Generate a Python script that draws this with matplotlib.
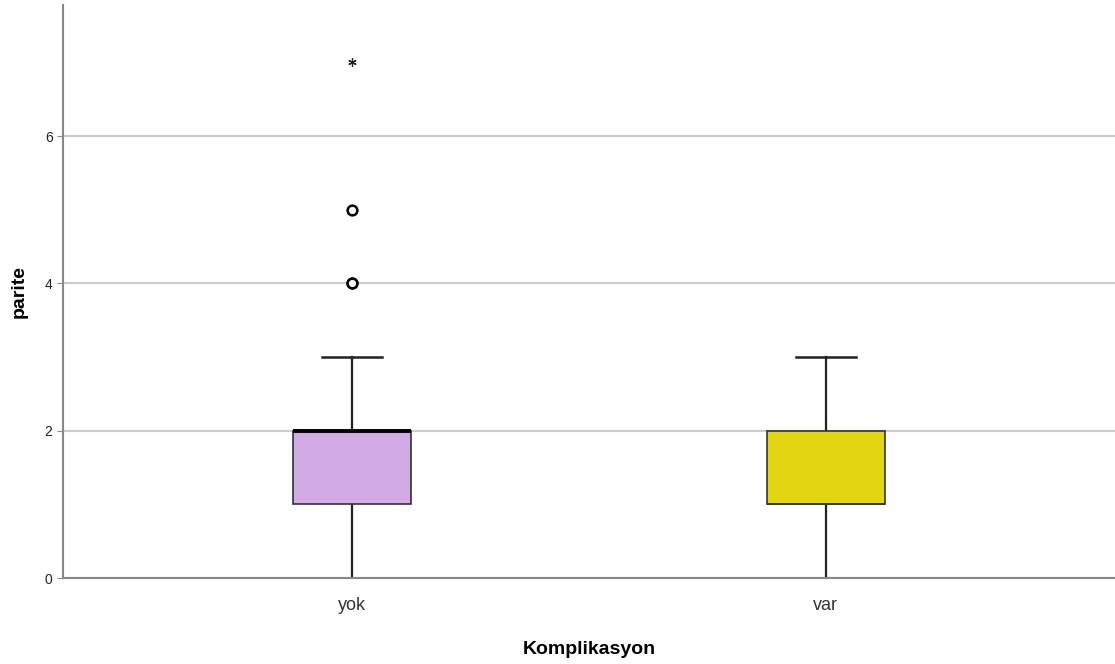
import matplotlib.pyplot as plt

plt.rcParams['font.family'] = ['Liberation Sans', 'DejaVu Sans']

# Box plot summary for parite by Komplikasyon
groups = ['yok', 'var']
q1 = [1, 1]
medians = [2, 1]
q3 = [2, 2]
whis_lo = [0, 0]
whis_hi = [3, 3]
outliers = [[4, 4, 5], []]
extremes = [[7], []]
colors = ['#d2aae4', '#e1d60f']

stats = []
for i, g in enumerate(groups):
    stats.append({'label': g, 'q1': q1[i], 'med': medians[i], 'q3': q3[i],
                  'whislo': whis_lo[i], 'whishi': whis_hi[i], 'fliers': []})

fig = plt.figure(figsize=(11.15, 6.64), dpi=100)
ax = fig.add_axes([0.0565, 0.1295, 0.9435, 0.863])

positions = [1, 2]
bp = ax.bxp(stats, positions=positions, widths=0.25, patch_artist=True,
            showfliers=False,
            boxprops=dict(edgecolor='#333333', linewidth=1.2),
            whiskerprops=dict(color='#222222', linewidth=1.6),
            capprops=dict(color='#222222', linewidth=1.8),
            medianprops=dict(color='black', linewidth=2.8),
            capwidths=0.125)
for patch, c in zip(bp['boxes'], colors):
    patch.set_facecolor(c)
bp['medians'][1].set_linewidth(1.2)
bp['medians'][1].set_color('#333333')
for b in bp['boxes']:
    b.set_zorder(3)
for m in bp['medians']:
    m.set_zorder(4)

for p, vals in zip(positions, outliers):
    if vals:
        ax.plot([p] * len(vals), vals, 'o', mfc='white', mec='black',
                mew=1.8, ms=7, zorder=5)
for p, vals in zip(positions, extremes):
    if vals:
        ax.plot([p] * len(vals), vals, marker=(6, 2, 0), color='#222222',
                ls='none', ms=6, mew=0.9, zorder=5)

ax.set_xlim(0.39, 2.61)
ax.set_ylim(0, 7.78)
ax.set_yticks([0, 2, 4, 6])
ax.set_xticks(positions)
ax.set_xticklabels(groups, fontsize=13, color='#333333')
ax.tick_params(axis='y', labelsize=10, length=4, color='#888888', labelcolor='#222222')
ax.tick_params(axis='x', length=0, pad=14)
ax.yaxis.grid(True, color='#cccccc', linewidth=1.5)
ax.set_axisbelow(True)

for s in ['top', 'right']:
    ax.spines[s].set_visible(False)
ax.spines['left'].set_color('#888888')
ax.spines['bottom'].set_color('#888888')
ax.spines['left'].set_linewidth(1.5)
ax.spines['bottom'].set_linewidth(1.5)

ax.set_xlabel('Komplikasyon', fontsize=14, fontweight='bold', labelpad=19)
ax.set_ylabel('parite', fontsize=14, fontweight='bold', labelpad=12)

fig.savefig('out.png', dpi=100, facecolor='white')
